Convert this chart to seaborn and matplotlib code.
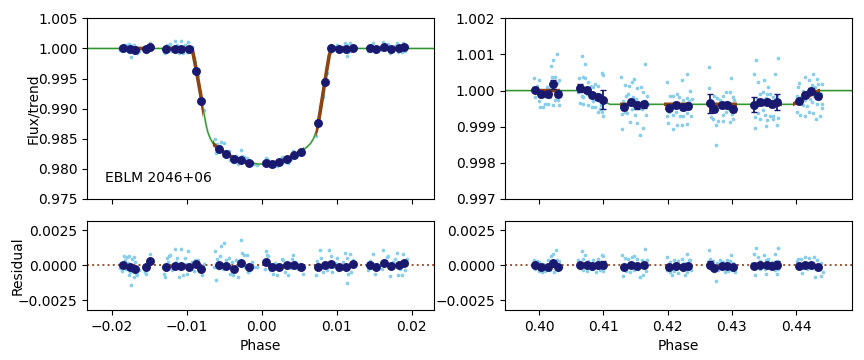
import matplotlib
matplotlib.use("Agg")
import matplotlib.pyplot as plt
from matplotlib.patches import Rectangle
import seaborn as sns

# ---------------- primary transit (left) ----------------
# unbinned points: phase, flux/trend, residual
left_raw_phase = [
    -0.01836, -0.01800, -0.01778, -0.01898, -0.01889, -0.01867, -0.01822, -0.01791, -0.01756, -0.01733,
    -0.01711, -0.01689, -0.01676, -0.01667, -0.01702, -0.01747, -0.01810, -0.01844, -0.01644, -0.01770,
    -0.01720, -0.01498, -0.01489, -0.01533, -0.01556, -0.01542, -0.01511, -0.01569, -0.01480,
    -0.01311, -0.01289, -0.01267, -0.01244, -0.01222, -0.01164, -0.01133, -0.01111, -0.01076, -0.01053,
    -0.01031, -0.01000, -0.00991, -0.00933, -0.00911, -0.00889, -0.00858, -0.00831, -0.00804, -0.00778,
    -0.01200, -0.01178, -0.01250, -0.01089, -0.00956, -0.01320, -0.01258, -0.01142, -0.01013,
    -0.00631, -0.00609, -0.00600, -0.00564, -0.00547, -0.00498, -0.00480, -0.00444, -0.00422, -0.00400,
    -0.00378, -0.00347, -0.00324, -0.00298, -0.00284, -0.00258, -0.00236, -0.00200, -0.00182, -0.00156,
    -0.00129, -0.00102, -0.00520, -0.00587, -0.00644, -0.00418, -0.00222, -0.00067,
    0.00057, 0.00075, 0.00088, 0.00044, 0.00111, 0.00155, 0.00177, 0.00208, 0.00244, 0.00266,
    0.00288, 0.00311, 0.00355, 0.00368, 0.00400, 0.00422, 0.00444, 0.00466, 0.00488, 0.00511,
    0.00555, 0.00133, 0.00222, 0.00333, 0.00391,
    0.00724, 0.00742, 0.00777, 0.00791, 0.00822, 0.00844, 0.00866, 0.00897, 0.00924, 0.00933,
    0.00955, 0.00977, 0.01000, 0.01022, 0.01080, 0.01111, 0.01133, 0.01155, 0.01177, 0.01142,
    0.01186, 0.01222, 0.01244, 0.00813, 0.01057,
    0.01422, 0.01444, 0.01480, 0.01511, 0.01533, 0.01577, 0.01622, 0.01644, 0.01666, 0.01688,
    0.01711, 0.01733, 0.01755, 0.01777, 0.01800, 0.01822, 0.01844, 0.01866, 0.01888, 0.01911,
    0.01933, 0.01466, 0.01600, 0.01870,
]
left_raw_flux = [
    1.00064, 1.00060, 1.00067, 1.00012, 0.99981, 0.99957, 1.00036, 1.00019, 0.99952, 1.00048,
    1.00060, 1.00024, 0.99945, 0.99929, 0.99917, 0.99862, 0.99976, 0.99988, 0.99964, 0.99933,
    0.99976, 1.00083, 1.00048, 1.00019, 0.99952, 0.99940, 1.00000, 0.99988, 1.00036,
    0.99940, 0.99917, 1.00055, 1.00064, 1.00071, 1.00119, 1.00055, 0.99917, 1.00119, 0.99929,
    1.00055, 0.99940, 1.00100, 1.00024, 0.99840, 0.99770, 0.99560, 0.99300, 0.99080, 0.98980,
    0.99964, 0.99988, 0.99988, 0.99976, 0.99988, 0.99988, 1.00024, 1.00024, 1.00012,
    0.98500, 0.98260, 0.98410, 0.98380, 0.98450, 0.98430, 0.98290, 0.98290, 0.98150, 0.98220,
    0.98120, 0.98210, 0.98080, 0.98160, 0.98320, 0.98220, 0.98200, 0.98180, 0.98060, 0.98060,
    0.98120, 0.98080, 0.98270, 0.98320, 0.98400, 0.98200, 0.98110, 0.98070,
    0.98180, 0.98160, 0.98150, 0.98060, 0.98050, 0.98040, 0.98120, 0.98050, 0.98110, 0.98190,
    0.98180, 0.98110, 0.98100, 0.98190, 0.98250, 0.98290, 0.98250, 0.98230, 0.98240, 0.98290,
    0.98250, 0.98100, 0.98120, 0.98150, 0.98170,
    0.98550, 0.98730, 0.99040, 0.99090, 0.99220, 0.99460, 0.99590, 0.99970, 1.00050, 0.99950,
    0.99988, 1.00019, 1.00052, 0.99964, 1.00024, 1.00090, 1.00052, 0.99940, 1.00083, 0.99876,
    0.99952, 1.00036, 1.00012, 0.99190, 0.99988,
    0.99964, 1.00029, 1.00083, 0.99940, 1.00012, 1.00000, 1.00107, 1.00029, 1.00060, 1.00067,
    0.99924, 0.99988, 1.00024, 1.00048, 1.00090, 0.99933, 0.99976, 0.99933, 1.00083, 0.99964,
    1.00048, 0.99988, 0.99976, 1.00000,
]
left_raw_resid = [
    0.00064, 0.00060, 0.00067, 0.00012, -0.00019, -0.00043, 0.00036, 0.00019, -0.00048, 0.00048,
    0.00060, 0.00024, -0.00055, -0.00071, -0.00083, -0.00138, -0.00024, -0.00012, -0.00036, -0.00067,
    -0.00024, 0.00083, 0.00048, 0.00019, -0.00048, -0.00060, 0.00000, -0.00012, 0.00036,
    -0.00060, -0.00083, 0.00055, 0.00064, 0.00071, 0.00119, 0.00055, -0.00083, 0.00119, -0.00071,
    0.00055, -0.00060, 0.00100, 0.00024, -0.00040, 0.00036, 0.00038, -0.00040, -0.00071, 0.00012,
    -0.00036, -0.00012, -0.00012, -0.00024, -0.00012, -0.00012, 0.00024, 0.00024, 0.00012,
    0.00100, -0.00107, 0.00048, 0.00064, 0.00138, 0.00162, 0.00036, 0.00055, -0.00060, 0.00024,
    -0.00071, 0.00036, -0.00083, 0.00012, 0.00183, 0.00088, 0.00076, 0.00071, -0.00048, -0.00036,
    0.00024, -0.00012, -0.00024, -0.00019, -0.00012, -0.00012, -0.00012, -0.00012,
    0.00100, 0.00076, 0.00067, -0.00024, -0.00036, -0.00060, 0.00019, -0.00067, -0.00024, 0.00048,
    0.00036, -0.00048, -0.00067, 0.00012, 0.00048, 0.00076, 0.00024, -0.00012, -0.00024, 0.00012,
    -0.00060, 0.00000, 0.00005, -0.00012, -0.00019,
    -0.00067, 0.00029, 0.00107, 0.00052, -0.00048, 0.00000, -0.00036, 0.00107, 0.00067, -0.00048,
    -0.00012, 0.00019, 0.00052, -0.00036, 0.00024, 0.00090, 0.00052, -0.00060, 0.00083, -0.00124,
    -0.00048, 0.00036, 0.00012, -0.00012, -0.00012,
    -0.00036, 0.00029, 0.00083, -0.00060, 0.00012, 0.00000, 0.00107, 0.00029, 0.00060, 0.00067,
    -0.00076, -0.00012, 0.00024, 0.00048, 0.00090, -0.00067, -0.00024, -0.00067, 0.00083, -0.00036,
    0.00048, -0.00012, -0.00024, 0.00000,
]

# binned points
left_bin_phase = [
    -0.01853, -0.01756, -0.01699, -0.01552, -0.01499,
    -0.01276, -0.01165, -0.01072, -0.00973, -0.00872, -0.00805,
    -0.00565, -0.00472, -0.00365, -0.00272, -0.00165,
    0.00057, 0.00133, 0.00235, 0.00333, 0.00435, 0.00528,
    0.00755, 0.00840, 0.00928, 0.01035, 0.01128, 0.01213,
    0.01448, 0.01528, 0.01635, 0.01728, 0.01835, 0.01897,
]
left_bin_flux = [
    1.00005, 0.99986, 0.99976, 0.99986, 1.00029,
    0.99990, 0.99998, 0.99998, 0.99990, 0.99620, 0.99130,
    0.98325, 0.98248, 0.98156, 0.98154, 0.98090,
    0.98104, 0.98088, 0.98108, 0.98165, 0.98225, 0.98280,
    0.98760, 0.99435, 1.00000, 0.99990, 0.99990, 1.00012,
    1.00005, 0.99990, 1.00019, 0.99998, 1.00005, 1.00017,
]
left_bin_resid = [
    0.00005, -0.00014, -0.00024, -0.00014, 0.00029,
    -0.00010, -0.00002, -0.00002, -0.00010, 0.00012, -0.00024,
    0.00005, -0.00002, -0.00024, 0.00014, -0.00010,
    0.00024, -0.00012, -0.00012, 0.00005, 0.00005, -0.00010,
    -0.00010, 0.00005, 0.00012, -0.00010, -0.00010, 0.00012,
    0.00005, -0.00010, 0.00019, -0.00002, 0.00005, 0.00017,
]
left_bin_err = [0.00008] * len(left_bin_phase)

# transit model
left_model_phase = [
    -0.0233, -0.0093, -0.0090, -0.0087, -0.0084, -0.0080, -0.0077, -0.0074, -0.0072, -0.0069,
    -0.0065, -0.0060, -0.0055, -0.0050, -0.0045, -0.0040, -0.0035, -0.0030, -0.0025, -0.0020,
    -0.0015, -0.0010, -0.0005, 0.0000, 0.0005, 0.0010, 0.0015, 0.0020, 0.0025, 0.0030,
    0.0035, 0.0040, 0.0045, 0.0050, 0.0055, 0.0060, 0.0065, 0.0069, 0.0072, 0.0075,
    0.0079, 0.0083, 0.0087, 0.0090, 0.0093, 0.0230,
]
left_model_flux = [
    1.0000, 1.0000, 0.9981, 0.9961, 0.9940, 0.9912, 0.9891, 0.9871, 0.9861, 0.9851,
    0.9842, 0.9836, 0.9831, 0.9827, 0.9823, 0.9820, 0.9817, 0.9815, 0.9813, 0.9811,
    0.9810, 0.9809, 0.9808, 0.9808, 0.9808, 0.9809, 0.9810, 0.9811, 0.9813, 0.9815,
    0.9817, 0.9820, 0.9823, 0.9827, 0.9831, 0.9836, 0.9842, 0.9850, 0.9860, 0.9873,
    0.9903, 0.9935, 0.9966, 0.9988, 1.0000, 1.0000,
]
left_seg_lo = [-0.0190, -0.0132, -0.0065, 0.0003, 0.0072, 0.0142]
left_seg_hi = [-0.0148, -0.0078, -0.0010, 0.0056, 0.0125, 0.0194]

# ---------------- secondary eclipse (right) ----------------
right_raw_phase = [
    0.40275, 0.40223, 0.40182, 0.39922, 0.39990, 0.39974, 0.40119, 0.40130, 0.40197, 0.40249,
    0.40316, 0.40275, 0.39912, 0.39938, 0.39990, 0.40093, 0.40145, 0.40016, 0.40057, 0.40249,
    0.40301, 0.40223, 0.40316, 0.40042, 0.40171, 0.40093, 0.39964, 0.40327,
    0.40674, 0.40716, 0.40623, 0.40690, 0.40716, 0.40768, 0.40809, 0.40846, 0.40872, 0.40923,
    0.40975, 0.40991, 0.40612, 0.40664, 0.40690, 0.40742, 0.40794, 0.40846, 0.40898, 0.40934,
    0.40960, 0.40638, 0.40690, 0.40768, 0.40820, 0.40872, 0.40923, 0.40975, 0.40991, 0.40949,
    0.40716, 0.40638,
    0.41650, 0.41276, 0.41339, 0.41401, 0.41442, 0.41484, 0.41530, 0.41588, 0.41624, 0.41676,
    0.41302, 0.41354, 0.41390, 0.41416, 0.41468, 0.41510, 0.41546, 0.41598, 0.41650, 0.41691,
    0.41287, 0.41339, 0.41375, 0.41416, 0.41494, 0.41520, 0.41572, 0.41624, 0.41665, 0.41297,
    0.41442, 0.41598, 0.41339,
    0.41997, 0.42220, 0.42298, 0.42039, 0.42091, 0.42143, 0.42184, 0.42246, 0.42298, 0.42340,
    0.41987, 0.42029, 0.42080, 0.42132, 0.42195, 0.42246, 0.42298, 0.42013, 0.42080, 0.42143,
    0.42220, 0.42309, 0.42169, 0.42065, 0.42350, 0.42376, 0.42366,
    0.42651, 0.42988, 0.42651, 0.42724, 0.42765, 0.42817, 0.42869, 0.42911, 0.42973, 0.43025,
    0.43035, 0.42687, 0.42739, 0.42776, 0.42827, 0.42869, 0.42911, 0.42962, 0.42999, 0.43025,
    0.42973, 0.42672, 0.42713, 0.42791, 0.42755, 0.42869, 0.42755, 0.42921, 0.42843,
    0.43372, 0.43725, 0.43351, 0.43678, 0.43414, 0.43502, 0.43569, 0.43440, 0.43492, 0.43544,
    0.43595, 0.43647, 0.43709, 0.43388, 0.43466, 0.43533, 0.43621, 0.43346, 0.43414, 0.43481,
    0.43518, 0.43595, 0.43647, 0.43725, 0.43362, 0.43440, 0.43544, 0.43637, 0.43362, 0.43533,
    0.43709, 0.43466,
    0.44140, 0.44270, 0.44322, 0.44208, 0.44052, 0.44036, 0.44104, 0.44166, 0.44244, 0.44296,
    0.44348, 0.44399, 0.44010, 0.44073, 0.44140, 0.44218, 0.44280, 0.44348, 0.44384, 0.44114,
    0.44176, 0.44244, 0.44322, 0.44399, 0.44021, 0.44062, 0.44140, 0.44208, 0.44259, 0.44311,
    0.44374, 0.44399,
]
right_raw_flux = [
    1.00101, 1.00084, 1.00067, 1.00035, 1.00028, 1.00014, 1.00011, 1.00005, 1.00039, 1.00037,
    1.00030, 1.00020, 0.99995, 0.99982, 0.99972, 0.99963, 0.99963, 0.99954, 0.99954, 0.99975,
    0.99975, 0.99961, 0.99961, 0.99986, 0.99982, 0.99995, 1.00000, 1.00000,
    1.00096, 1.00073, 1.00034, 1.00037, 1.00035, 1.00023, 1.00014, 1.00009, 1.00018, 1.00014,
    1.00049, 1.00043, 0.99995, 0.99986, 0.99982, 0.99991, 0.99982, 0.99972, 0.99991, 0.99970,
    0.99959, 0.99966, 0.99963, 0.99961, 0.99954, 0.99954, 0.99942, 0.99942, 0.99931, 0.99949,
    1.00005, 1.00014,
    1.00073, 1.00037, 1.00016, 1.00012, 1.00025, 1.00032, 1.00006, 1.00009, 0.99995, 0.99986,
    0.99972, 0.99984, 0.99991, 0.99975, 0.99982, 0.99977, 0.99968, 0.99968, 0.99972, 0.99963,
    0.99936, 0.99940, 0.99938, 0.99913, 0.99933, 0.99911, 0.99878, 0.99896, 0.99933, 0.99893,
    0.99949, 0.99949, 0.99959,
    1.00025, 1.00030, 1.00046, 0.99986, 0.99984, 0.99991, 0.99982, 0.99975, 0.99979, 0.99972,
    0.99931, 0.99942, 0.99933, 0.99942, 0.99931, 0.99929, 0.99938, 0.99911, 0.99894, 0.99904,
    0.99904, 0.99908, 0.99959, 0.99959, 1.00000, 0.99977, 0.99931,
    1.00066, 1.00034, 1.00006, 0.99986, 0.99979, 0.99975, 0.99986, 0.99995, 0.99997, 0.99982,
    0.99975, 0.99959, 0.99949, 0.99945, 0.99954, 0.99933, 0.99940, 0.99949, 0.99936, 0.99922,
    0.99913, 0.99927, 0.99922, 0.99917, 0.99904, 0.99917, 0.99848, 0.99968, 0.99963,
    1.00084, 1.00090, 1.00046, 1.00046, 1.00025, 1.00030, 1.00009, 0.99991, 0.99995, 0.99991,
    0.99991, 0.99982, 0.99986, 0.99977, 0.99972, 0.99979, 0.99970, 0.99951, 0.99938, 0.99945,
    0.99933, 0.99931, 0.99922, 0.99924, 0.99927, 0.99922, 0.99919, 0.99929, 0.99896, 0.99902,
    0.99904, 0.99959,
    1.00037, 1.00046, 1.00032, 1.00030, 1.00021, 1.00009, 1.00000, 0.99995, 1.00016, 1.00009,
    1.00018, 1.00018, 0.99984, 0.99982, 0.99975, 0.99977, 0.99986, 0.99982, 0.99991, 0.99959,
    0.99957, 0.99968, 0.99963, 0.99963, 0.99942, 0.99933, 0.99931, 0.99940, 0.99938, 0.99920,
    0.99929, 0.99951,
]

right_res_phase = [
    0.40265, 0.40223, 0.40182, 0.39922, 0.39964, 0.40005, 0.40067, 0.40145, 0.40197, 0.40275,
    0.40316, 0.39938, 0.39990, 0.40042, 0.40093, 0.40171, 0.40233, 0.40301, 0.40119, 0.40337,
    0.40016,
    0.40674, 0.40716, 0.40612, 0.40690, 0.40768, 0.40846, 0.40923, 0.40975, 0.40991, 0.40638,
    0.40690, 0.40752, 0.40820, 0.40887, 0.40949, 0.41001, 0.40794, 0.40898, 0.40732, 0.40960,
    0.41650, 0.41287, 0.41339, 0.41390, 0.41442, 0.41479, 0.41530, 0.41598, 0.41676, 0.41302,
    0.41354, 0.41416, 0.41479, 0.41546, 0.41624, 0.41572, 0.41302, 0.41665, 0.41364, 0.41510,
    0.41624,
    0.41997, 0.42298, 0.42220, 0.42039, 0.42101, 0.42169, 0.42257, 0.42340, 0.41987, 0.42039,
    0.42101, 0.42169, 0.42236, 0.42298, 0.42013, 0.42143, 0.42065, 0.42272, 0.42350, 0.42366,
    0.42651, 0.42988, 0.42661, 0.42713, 0.42765, 0.42817, 0.42869, 0.42921, 0.42973, 0.43025,
    0.42672, 0.42724, 0.42791, 0.42843, 0.42895, 0.42947, 0.42999, 0.43051, 0.42755, 0.42869,
    0.42703,
    0.43372, 0.43725, 0.43351, 0.43678, 0.43414, 0.43502, 0.43569, 0.43440, 0.43533, 0.43621,
    0.43699, 0.43362, 0.43440, 0.43518, 0.43595, 0.43673, 0.43725, 0.43362, 0.43533, 0.43709,
    0.43466, 0.43637,
    0.44036, 0.44073, 0.44140, 0.44208, 0.44280, 0.44322, 0.44384, 0.44010, 0.44088, 0.44166,
    0.44244, 0.44311, 0.44374, 0.44415, 0.44384, 0.44296, 0.44088, 0.44010, 0.44192, 0.44348,
]
right_res_resid = [
    0.00107, 0.00083, 0.00067, 0.00036, 0.00029, 0.00024, 0.00012, 0.00036, 0.00024, 0.00036,
    0.00029, -0.00024, -0.00043, -0.00048, -0.00043, -0.00036, -0.00048, -0.00036, -0.00012, -0.00012,
    -0.00012,
    0.00100, 0.00076, 0.00036, 0.00043, 0.00029, 0.00036, 0.00043, 0.00076, 0.00067, -0.00019,
    -0.00036, -0.00043, -0.00029, -0.00048, -0.00036, -0.00043, -0.00005, -0.00012, 0.00012, 0.00019,
    0.00114, 0.00076, 0.00052, 0.00043, 0.00060, 0.00067, 0.00048, 0.00036, 0.00036, -0.00024,
    -0.00043, -0.00048, -0.00036, -0.00029, -0.00067, -0.00083, -0.00076, -0.00043, 0.00005, 0.00005,
    0.00000,
    0.00060, 0.00083, 0.00048, 0.00024, 0.00036, 0.00029, 0.00019, 0.00036, -0.00036, -0.00048,
    -0.00043, -0.00052, -0.00036, -0.00048, -0.00012, -0.00019, -0.00067, -0.00071, 0.00036, -0.00036,
    0.00107, 0.00071, 0.00043, 0.00029, 0.00019, 0.00036, 0.00024, 0.00036, 0.00029, 0.00019,
    -0.00024, -0.00043, -0.00036, -0.00029, -0.00048, -0.00043, -0.00036, -0.00048, -0.00114, -0.00012,
    0.00000,
    0.00124, 0.00124, 0.00083, 0.00083, 0.00060, 0.00071, 0.00043, 0.00029, 0.00036, 0.00024,
    0.00029, -0.00012, -0.00024, -0.00029, -0.00019, -0.00036, -0.00024, -0.00067, -0.00060, -0.00060,
    0.00005, 0.00005,
    0.00043, 0.00048, 0.00060, 0.00052, 0.00060, 0.00036, 0.00019, -0.00012, -0.00019, -0.00024,
    -0.00019, -0.00029, -0.00024, -0.00048, -0.00076, -0.00083, -0.00052, 0.00029, 0.00005, 0.00000,
]

right_bin_phase = [
    0.39938, 0.40026, 0.40145, 0.40223, 0.40300,
    0.40638, 0.40742, 0.40830, 0.40923, 0.41001,
    0.41328, 0.41432, 0.41530, 0.41639,
    0.42028, 0.42132, 0.42237, 0.42324,
    0.42662, 0.42728, 0.42844, 0.42931, 0.43024,
    0.43351, 0.43440, 0.43544, 0.43631, 0.43709,
    0.44051, 0.44145, 0.44233, 0.44347,
]
right_bin_flux = [
    1.00003, 0.99991, 0.99991, 1.00017, 0.99991,
    1.00006, 1.00002, 0.99989, 0.99982, 0.99975,
    0.99954, 0.99968, 0.99959, 0.99962,
    0.99951, 0.99961, 0.99954, 0.99957,
    0.99965, 0.99950, 0.99959, 0.99961, 0.99950,
    0.99961, 0.99968, 0.99968, 0.99963, 0.99968,
    0.99970, 0.99988, 0.99998, 0.99986,
]
right_bin_resid = [
    0.00005, -0.00010, -0.00010, 0.00019, -0.00010,
    0.00005, 0.00005, -0.00002, 0.00005, 0.00005,
    -0.00010, 0.00005, -0.00002, 0.00005,
    -0.00010, -0.00002, -0.00010, -0.00002,
    0.00005, -0.00017, -0.00002, -0.00002, -0.00010,
    -0.00002, 0.00005, 0.00005, -0.00002, 0.00005,
    -0.00002, 0.00005, 0.00005, -0.00010,
]
right_bin_err = [
    0.00008, 0.00008, 0.00008, 0.00012, 0.00008,
    0.00011, 0.00008, 0.00008, 0.00008, 0.00027,
    0.00008, 0.00009, 0.00010, 0.00010,
    0.00008, 0.00008, 0.00008, 0.00008,
    0.00026, 0.00008, 0.00008, 0.00008, 0.00008,
    0.00020, 0.00008, 0.00008, 0.00008, 0.00023,
    0.00008, 0.00008, 0.00008, 0.00008,
]

right_model_phase = [0.3947, 0.4068, 0.4110, 0.4395, 0.4436, 0.4487]
right_model_flux = [1.0000, 1.0000, 0.99962, 0.99962, 1.0000, 1.0000]
right_seg_lo = [0.3991, 0.4061, 0.4126, 0.4194, 0.4264, 0.4331, 0.4396]
right_seg_hi = [0.4033, 0.4103, 0.4170, 0.4237, 0.4308, 0.4378, 0.4437]


def draw_fit(ax, raw_x, raw_y, mod_x, mod_y, seg_lo, seg_hi, bx, by, be):
    sns.scatterplot(x=raw_x, y=raw_y, color="skyblue", s=7, linewidth=0, ax=ax, zorder=1)
    sns.lineplot(x=mod_x, y=mod_y, color="#7cc47c", lw=1.8, alpha=0.45, ax=ax,
                 estimator=None, sort=False, zorder=2)
    sns.lineplot(x=mod_x, y=mod_y, color="#2f922f", lw=0.9, ax=ax,
                 estimator=None, sort=False, zorder=2)
    for lo, hi in zip(seg_lo, seg_hi):
        sns.lineplot(x=mod_x, y=mod_y, color="saddlebrown", lw=2.6, ax=ax,
                     estimator=None, sort=False, zorder=3)
        ax.lines[-1].set_clip_path(Rectangle((lo, 0.9), hi - lo, 0.2, transform=ax.transData))
    ax.errorbar(bx, by, yerr=be, fmt="o", color="midnightblue", ms=5.4, capsize=2,
                elinewidth=1.3, zorder=4)


def draw_resid(ax, raw_x, raw_r, bx, br, be):
    sns.scatterplot(x=raw_x, y=raw_r, color="skyblue", s=7, linewidth=0, ax=ax, zorder=1)
    ax.axhline(0, color="sienna", ls=":", lw=1.4, zorder=2)
    ax.errorbar(bx, br, yerr=be, fmt="o", color="midnightblue", ms=5.4, capsize=2,
                elinewidth=1.3, zorder=4)


fig = plt.figure(figsize=(8.64, 3.6), dpi=100)
gs = fig.add_gridspec(2, 2, height_ratios=[2.02, 1], left=0.101, right=0.986,
                      top=0.949, bottom=0.139, hspace=0.16, wspace=0.205)
ax1 = fig.add_subplot(gs[0, 0])
ax2 = fig.add_subplot(gs[0, 1])
ax3 = fig.add_subplot(gs[1, 0], sharex=ax1)
ax4 = fig.add_subplot(gs[1, 1], sharex=ax2)

draw_fit(ax1, left_raw_phase, left_raw_flux, left_model_phase, left_model_flux,
         left_seg_lo, left_seg_hi, left_bin_phase, left_bin_flux, left_bin_err)
draw_fit(ax2, right_raw_phase, right_raw_flux, right_model_phase, right_model_flux,
         right_seg_lo, right_seg_hi, right_bin_phase, right_bin_flux, right_bin_err)
draw_resid(ax3, left_raw_phase, left_raw_resid, left_bin_phase, left_bin_resid, left_bin_err)
draw_resid(ax4, right_res_phase, right_res_resid, right_bin_phase, right_bin_resid, right_bin_err)

ax1.set_xlim(-0.0233, 0.0230)
ax2.set_xlim(0.3947, 0.4487)
ax1.set_ylim(0.975, 1.005)
ax2.set_ylim(0.997, 1.002)
ax1.set_yticks([0.975, 0.980, 0.985, 0.990, 0.995, 1.000, 1.005])
ax2.set_yticks([0.997, 0.998, 0.999, 1.000, 1.001, 1.002])
ax1.set_xticks([-0.02, -0.01, 0.0, 0.01, 0.02])
ax2.set_xticks([0.40, 0.41, 0.42, 0.43, 0.44])
for ax in (ax3, ax4):
    ax.set_ylim(-0.0032, 0.0032)
    ax.set_yticks([-0.0025, 0.0, 0.0025])
    ax.set_xlabel("Phase")
for ax in (ax1, ax2):
    ax.tick_params(labelbottom=False)
for ax in (ax1, ax2, ax3, ax4):
    ax.ticklabel_format(axis="y", useOffset=False)
    ax.set_ylabel("")

ax1.set_ylabel("Flux/trend")
ax3.set_ylabel("Residual")
ax1.yaxis.set_label_coords(-0.136, 0.5)
ax3.yaxis.set_label_coords(-0.182, 0.5)
ax1.text(0.05, 0.117, "EBLM 2046+06", transform=ax1.transAxes, va="center", fontsize=10)

fig.savefig("out.png", dpi=100)
